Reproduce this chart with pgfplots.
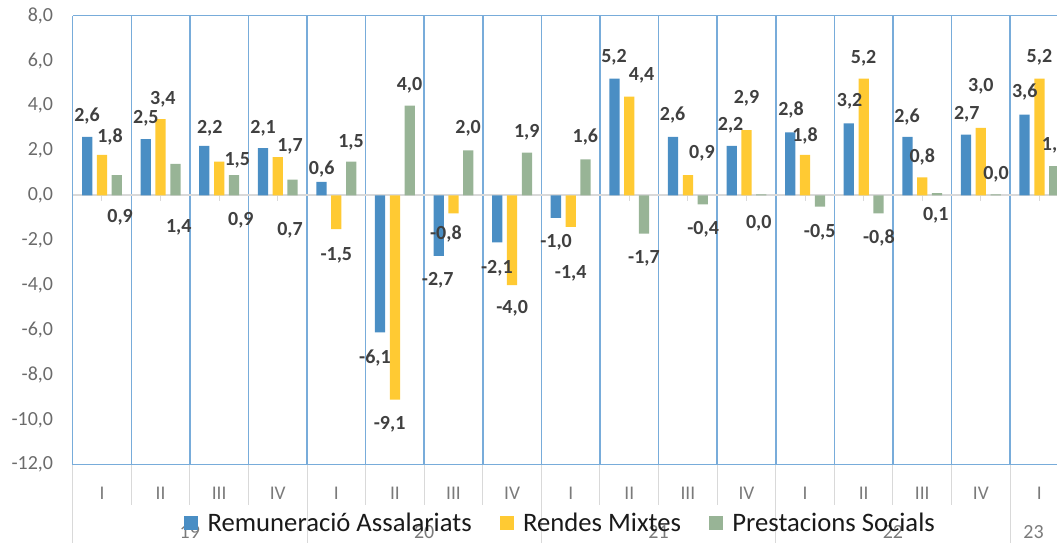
\documentclass[border=0pt]{standalone}
\usepackage{fontspec}
\setmainfont{Carlito}
\usepackage{pgfplots}
\pgfplotsset{compat=1.18}
\usepackage{pgfplotstable}
\definecolor{cblue}{HTML}{4A8EC4}
\definecolor{cyellow}{HTML}{FFCA33}
\definecolor{cgreen}{HTML}{98B496}
\definecolor{gridblue}{HTML}{78ACDA}
\definecolor{zeroline}{HTML}{D9D9D9}
\definecolor{sepgray}{HTML}{D9D9D9}
\definecolor{tickgray}{HTML}{6B6B6B}
\definecolor{romgray}{HTML}{7A7A7A}
\definecolor{labgray}{HTML}{404040}
\definecolor{legendtext}{HTML}{1A1A1A}
\pgfplotsset{sqlegend/.style={legend image code/.code={\fill[##1] (0pt,-5.25pt) rectangle (10.5pt,5.25pt);}}}

\pgfplotstableread{
x rem ren pre
0 2.6 1.8 0.9
1 2.5 3.4 1.4
2 2.2 1.5 0.9
3 2.1 1.7 0.7
4 0.6 -1.5 1.5
5 -6.1 -9.1 4.0
6 -2.7 -0.8 2.0
7 -2.1 -4.0 1.9
8 -1.0 -1.4 1.6
9 5.2 4.4 -1.7
10 2.6 0.9 -0.4
11 2.2 2.9 0.04
12 2.8 1.8 -0.5
13 3.2 5.2 -0.8
14 2.6 0.8 0.1
15 2.7 3.0 0.04
16 3.6 5.2 1.3
}\bartab

\pgfplotstableread{
x y lab
-0.256 3.55 2,6
0.75 3.44 2,5
1.84 3.00 2,2
2.75 3.00 2,1
3.75 1.18 0,6
4.66 -7.23 -6,1
5.73 -3.77 -2,7
6.74 -3.25 -2,1
7.75 -2.07 -1,0
8.74 6.17 5,2
9.74 3.58 2,6
10.73 3.13 2,2
11.76 3.80 2,8
12.76 4.17 3,2
13.74 3.50 2,6
14.76 3.60 2,7
15.75 4.61 3,6
}\labA

\pgfplotstableread{
x y lab
0.137 2.61 1,8
1.04 4.28 3,4
2.31 1.57 1,5
3.21 2.20 1,7
4.00 -2.66 -1,5
4.91 -10.20 -9,1
5.87 -1.74 -0,8
7.00 -5.03 -4,0
8.00 -3.47 -1,4
9.21 5.36 4,4
10.24 1.87 0,9
11.00 4.32 2,9
12.00 2.64 1,8
13.00 6.10 5,2
14.00 1.72 0,8
15.00 4.84 3,0
16.00 6.15 5,2
}\labB

\pgfplotstableread{
x y lab
0.31 -0.97 0,9
1.31 -1.41 1,4
2.37 -1.10 0,9
3.21 -1.54 0,7
4.25 2.37 1,5
5.25 4.91 4,0
6.25 2.99 2,0
7.25 2.83 1,9
8.25 2.58 1,6
9.25 -2.81 -1,7
10.26 -1.51 -0,4
11.21 -1.25 0,0
12.25 -1.66 -0,5
13.26 -1.89 -0,8
14.23 -0.88 0,1
15.26 0.95 0,0
16.26 2.21 1,3
}\labC

\pgfplotstableread{
x y lab
0 -13.26 I
1 -13.26 II
2 -13.26 III
3 -13.26 IV
4 -13.26 I
5 -13.26 II
6 -13.26 III
7 -13.26 IV
8 -13.26 I
9 -13.26 II
10 -13.26 III
11 -13.26 IV
12 -13.26 I
13 -13.26 II
14 -13.26 III
15 -13.26 IV
16 -13.26 I
}\romtab

\pgfplotstableread{
x y lab
1.5 -15.0 19
5.5 -15.0 20
9.5 -15.0 21
13.5 -15.0 22
15.9 -15.0 23
}\yeartab

\begin{document}
\begin{tikzpicture}
\begin{axis}[
  scale only axis, width=738.2pt, height=336.75pt,
  xmin=-0.5, xmax=16.3, ymin=-12, ymax=8,
  clip=false,
  separate axis lines,
  x axis line style={draw=gridblue, line width=1.1pt},
  y axis line style={draw=none},
  xtick={-0.5,0.5,...,15.5}, xticklabels={},
  xmajorgrids, x grid style={draw=gridblue, line width=1.1pt},
  ytick={-12,-10,...,8},
  extra y ticks={0}, extra y tick labels={},
  extra y tick style={grid=major, y grid style={draw=zeroline, line width=1.5pt}},
  tick style={draw=none}, major tick length=0pt,
  scaled y ticks=false,
  /pgf/number format/assume math mode=true,
  yticklabel style={anchor=east, inner sep=0pt, xshift=-14.5pt, font=\fontsize{15}{18}\selectfont, text=tickgray, /pgf/number format/.cd, fixed, fixed zerofill, precision=1, use comma, assume math mode=true},
  legend style={at={(0.496,-0.13)}, anchor=center, draw=none, fill=none, legend columns=-1,
    font=\fontsize{20}{24}\selectfont, text=legendtext, inner sep=0pt,
    /tikz/every odd column/.append style={column sep=5pt},
    /tikz/every even column/.append style={column sep=19pt}},
  legend cell align=left,
]
\pgfplotsinvokeforeach{0,1,2,3,4,5,6,7,8,9,10,11,12,13,14,15,16}{
  \draw[zeroline, line width=0.75pt] (axis cs:#1,0) -- (axis cs:#1,-0.25);
}
\addplot[ybar, bar width=0.175, bar shift=-0.253, fill=cblue, draw=none, sqlegend]
  table[x=x, y=rem] {\bartab};
\addlegendentry{Remuneració Assalariats}
\addplot[ybar, bar width=0.175, bar shift=0, fill=cyellow, draw=none, sqlegend]
  table[x=x, y=ren] {\bartab};
\addlegendentry{Rendes Mixtes}
\addplot[ybar, bar width=0.175, bar shift=0.253, fill=cgreen, draw=none, sqlegend]
  table[x=x, y=pre] {\bartab};
\addlegendentry{Prestacions Socials}

\addplot[forget plot, draw=none, mark=none, nodes near coords, point meta=explicit symbolic,
  every node near coord/.style={anchor=center, inner sep=0pt, font=\bfseries\fontsize{15}{18}\selectfont, text=labgray}]
  table[x=x, y=y, meta=lab] {\labA};
\addplot[forget plot, draw=none, mark=none, nodes near coords, point meta=explicit symbolic,
  every node near coord/.style={anchor=center, inner sep=0pt, font=\bfseries\fontsize{15}{18}\selectfont, text=labgray}]
  table[x=x, y=y, meta=lab] {\labB};
\addplot[forget plot, draw=none, mark=none, nodes near coords, point meta=explicit symbolic,
  every node near coord/.style={anchor=center, inner sep=0pt, font=\bfseries\fontsize{15}{18}\selectfont, text=labgray}]
  table[x=x, y=y, meta=lab] {\labC};
\addplot[forget plot, draw=none, mark=none, nodes near coords, point meta=explicit symbolic,
  every node near coord/.style={anchor=center, inner sep=0pt, font=\fontsize{14.5}{17}\selectfont, text=romgray}]
  table[x=x, y=y, meta=lab] {\romtab};
\addplot[forget plot, draw=none, mark=none, nodes near coords, point meta=explicit symbolic,
  every node near coord/.style={anchor=center, inner sep=0pt, font=\fontsize{15}{18}\selectfont, text=romgray}]
  table[x=x, y=y, meta=lab] {\yeartab};

\pgfplotsinvokeforeach{0.5,1.5,2.5,4.5,5.5,6.5,8.5,9.5,10.5,12.5,13.5,14.5}{
  \draw[sepgray, line width=0.75pt] (axis cs:#1,-12) -- (axis cs:#1,-13.8);
}
\pgfplotsinvokeforeach{-0.5,3.5,7.5,11.5,15.5}{
  \draw[sepgray, line width=0.75pt] (axis cs:#1,-12) -- (axis cs:#1,-15.6);
}
\end{axis}
\pgfresetboundingbox
\path[use as bounding box] ([xshift=-54.5pt, yshift=-58pt]current axis.south west) rectangle ([yshift=11.8pt]current axis.north east);
\end{tikzpicture}
\end{document}
